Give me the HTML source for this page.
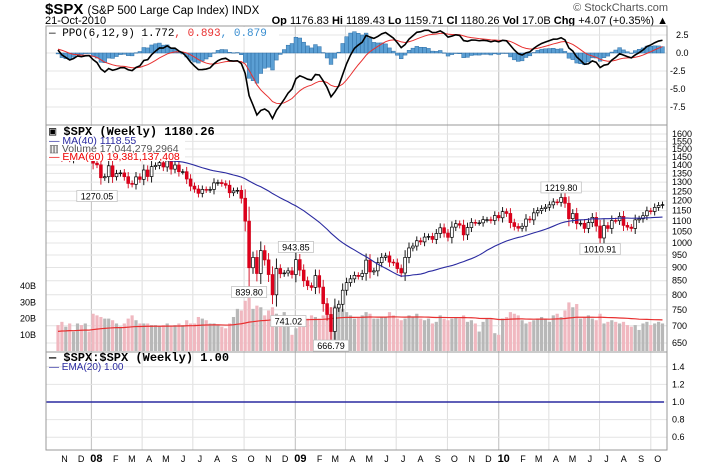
<!DOCTYPE html>
<html><head><meta charset="utf-8">
<style>
html,body{margin:0;padding:0;background:#fff;}
svg{display:block;font-family:"Liberation Sans",sans-serif;}
</style></head>
<body>
<svg id="chart" width="720" height="468" viewBox="0 0 720 468" xmlns="http://www.w3.org/2000/svg">
<g>
<text x="45" y="14" font-size="15" font-weight="bold">$SPX <tspan font-size="11.5" font-weight="normal">(S&amp;P 500 Large Cap Index) INDX</tspan></text>
<text x="45" y="24" font-size="11">21-Oct-2010</text>
<text x="668" y="24" font-size="11" text-anchor="end"><tspan font-weight="bold">Op</tspan> 1176.83  <tspan font-weight="bold">Hi</tspan> 1189.43  <tspan font-weight="bold">Lo</tspan> 1159.71  <tspan font-weight="bold">Cl</tspan> 1180.26  <tspan font-weight="bold">Vol</tspan> 17.0B  <tspan font-weight="bold">Chg</tspan> +4.07 (+0.35%) ▲</text>
<text x="668" y="11" font-size="11" fill="#555" text-anchor="end">© StockCharts.com</text>
</g>
<g id="grid"></g>
<g id="vol"></g>
<g id="ppo"></g>
<g id="price"></g>
<g id="ann"></g>
<g id="axes"></g>
</svg>
<script>
const historyCloses=[1409,1430,1431,1422,1448,1448,1438,1456,1451,1387,1402,1387,1386,1437,1421,1443,1444,1453,1482,1495,1505,1505,1522,1501,1531,1507,1536,1503,1531,1533,1553,1534,1458,1433,1453,1445,1479,1474,1453,1484,1527,1525,1557,1561,1554,1501,1535];
const closes=[1509,1453,1458,1440,1481,1504,1467,1484,1478,
1411,1401,1325,1331,1395,1331,1349,1353,1331,1293,1288,1330,1316,1370,1332,1390,1397,1414,1388,1425,1375,1400,1360,1360,1318,1278,1262,1239,1260,1257,1260,1296,1298,1292,1283,1242,1252,1255,1213,1099,899,940,877,968,930,873,800,896,876,879,887,873,
931,890,850,832,826,869,827,770,735,683,756,768,816,843,857,870,866,877,929,883,887,919,940,946,921,918,896,879,940,979,987,1010,1005,1026,1029,1016,1042,1068,1044,1025,1071,1087,1080,1036,1069,1093,1091,1091,1106,1106,1102,1126,1115,
1145,1136,1092,1074,1066,1075,1109,1105,1139,1150,1160,1167,1179,1194,1192,1217,1187,1111,1136,1088,1089,1065,1092,1117,1076,1022,1078,1065,1102,1101,1122,1079,1071,1065,1105,1110,1125,1149,1146,1166,1176,1180];
const volumes=[16,18,15,17,12,17,16,17,12,
23,22,21,20,20,19,17,15,17,20,22,19,17,17,17,16,16,15,16,17,15,16,17,16,19,17,17,21,20,19,17,17,16,15,14,17,21,26,25,31,34,26,28,27,22,25,27,23,22,24,20,10,
14,21,22,20,22,21,20,22,25,27,28,27,26,24,22,20,21,22,24,23,20,20,21,21,24,22,20,19,20,22,21,23,20,19,20,17,18,22,20,19,20,21,20,22,18,19,17,12,18,20,20,11,10,
20,21,24,23,22,19,17,18,19,20,21,20,18,22,23,21,25,30,27,29,20,21,22,20,19,23,17,18,19,18,17,18,16,15,16,13,17,18,16,17,18,17];
const priceTicks=[1600,1550,1500,1450,1400,1350,1300,1250,1200,1150,1100,1050,1000,950,900,850,800,750,700,650];
const volTicks=[10,20,30,40];
const ppoTicks=[2.5,0,-2.5,-5,-7.5];
const ratioTicks=[1.4,1.2,1.0,0.8,0.6];
const monthLabels=["N","D","08","F","M","A","M","J","J","A","S","O","N","D","09","F","M","A","M","J","J","A","S","O","N","D","10","F","M","A","M","J","J","A","S","O"];
const annotations=[{i:10,v:1270.05,t:"1270.05",below:true},{i:49,v:839.80,t:"839.80",below:true},{i:56,v:741.02,t:"741.02",below:true,dx:12},{i:61,v:943.85,t:"943.85",below:false},{i:70,v:666.79,t:"666.79",below:true},{i:129,v:1219.80,t:"1219.80",below:false},{i:139,v:1010.91,t:"1010.91",below:true}];

const NS="http://www.w3.org/2000/svg";
const L=46,R=667,T1=26,B1=125,B2=352,B3=450;
const X0=58,STEP=3.9;
const xi=i=>X0+i*STEP;
const yP=v=>134+(Math.log(1600)-Math.log(v))*232;
const yV=v=>351-v*1.62;
const yO=v=>53-v*7.2;
const yR=v=>402-(v-1)*88;
function el(tag,attrs,parent,text){const e=document.createElementNS(NS,tag);for(const k in attrs)e.setAttribute(k,attrs[k]);if(text!==undefined)e.textContent=text;parent.appendChild(e);return e;}
const g=id=>document.getElementById(id);
const n=Math.min(closes.length,volumes.length);
const all=historyCloses.concat(closes);
const H=historyCloses.length;

const grid=g('grid');
const start=new Date(2007,10,2);
const dx=d=>X0+((d-start)/864e5)/7*STEP;
for(const y of [2007,2008,2009,2010]) for(const m of [0,3,6,9]){
  const x=dx(new Date(y,m,1)); if(x<L||x>R)continue;
  const ln=el('line',{x1:x,x2:x,y1:T1,y2:B3,stroke:m===0?'#c8c8c8':'#dedede','stroke-width':m===0?1.2:1},grid);
  
}
priceTicks.forEach(v=>{const ln=el('line',{x1:L,x2:R,y1:yP(v),y2:yP(v),stroke:'#e4e4e4'},grid);});
ppoTicks.forEach(v=>{const ln=el('line',{x1:L,x2:R,y1:yO(v),y2:yO(v),stroke:'#e4e4e4'},grid);});
ratioTicks.forEach(v=>{const ln=el('line',{x1:L,x2:R,y1:yR(v),y2:yR(v),stroke:'#e4e4e4'},grid);});

const vol=g('vol');
for(let i=0;i<n;i++){
  const prev=all[H+i-1];const down=closes[i]<prev;
  const r=el('rect',{x:xi(i)-1.6,y:yV(volumes[i]),width:3.2,height:351-yV(volumes[i]),fill:down?'#f0b8c0':'#b8b8b8'},vol);
  
}
let ev=12,pts=[];const ka=2/61;
for(let i=0;i<n;i++){ev=volumes[i]*ka+ev*(1-ka);pts.push(xi(i)+','+yV(ev));}
const vl=el('polyline',{points:pts.join(' '),fill:'none',stroke:'#e83030','stroke-width':1.2},vol);


function emaSeries(arr,p){const k=2/(p+1);let e=arr[0];return arr.map(v=>(e=v*k+e*(1-k)));}
const e6=emaSeries(all,6),e12=emaSeries(all,12);
const ppoAll=all.map((v,i)=>(e6[i]-e12[i])/e12[i]*100);
const sigAll=emaSeries(ppoAll,9);
const ppo=g('ppo');
const pl=[],sl=[];
for(let i=0;i<n;i++){
  const p=ppoAll[H+i],s=sigAll[H+i],h=p-s;
  const y0=yO(0),y1=yO(h);
  const r=el('rect',{x:xi(i)-1.9,y:Math.min(y0,y1),width:3.8,height:Math.max(0.5,Math.abs(y1-y0)),fill:'#5b9fd4',stroke:'#2f6fa6','stroke-width':0.5},ppo);
  
  pl.push(xi(i)+','+yO(p));sl.push(xi(i)+','+yO(s));
}
const sline=el('polyline',{points:sl.join(' '),fill:'none',stroke:'#e83030','stroke-width':1},ppo);

const pline=el('polyline',{points:pl.join(' '),fill:'none',stroke:'#000','stroke-width':1.6},ppo);


const price=g('price');
const ma=[];
for(let i=0;i<n;i++){const j=H+i;const w=all.slice(Math.max(0,j-39),j+1);ma.push(xi(i)+','+yP(w.reduce((a,b)=>a+b,0)/w.length));}
for(let i=0;i<n;i++){
  const o=all[H+i-1],c=closes[i];const down=c<o;
  const rng=Math.abs(c-o)*0.3+c*0.012;
  const hi=Math.max(o,c)+rng,lo=Math.min(o,c)-rng;
  const w=el('line',{x1:xi(i),x2:xi(i),y1:yP(hi),y2:yP(lo),stroke:down?'#d00018':'#000','stroke-width':0.9},price);
  
  const yt=yP(Math.max(o,c)),yb=yP(Math.min(o,c));
  const b=el('rect',{x:xi(i)-1.4,y:yt,width:2.8,height:Math.max(0.8,yb-yt),fill:down?'#e0001c':'#fff',stroke:down?'#d00018':'#000','stroke-width':0.7},price);
  
}
const mal=el('polyline',{points:ma.join(' '),fill:'none',stroke:'#2a2aa0','stroke-width':1.1},price);

const rl=el('line',{x1:L,x2:R-3,y1:yR(1),y2:yR(1),stroke:'#2a2aa0','stroke-width':1.5},price);


const ann=g('ann');
annotations.forEach(a=>{
  const x=xi(a.i)+(a.dx||0);const y=yP(a.v)+(a.below?9:-9);
  const w=a.t.length*5.2+4;
  const r=el('rect',{x:x-w/2,y:y-6,width:w,height:11,fill:'#fff',stroke:'#bbb','stroke-width':0.7},ann);
  
  const t=el('text',{x:x,y:y+3,'font-size':9,'text-anchor':'middle'},ann,a.t);
  
});

const ax=g('axes');
const lb=el('rect',{x:47,y:126,width:138,height:35,fill:'#fff'},ax);

const lb2=el('rect',{x:47,y:27,width:232,height:11,fill:'#fff'},ax);

[[T1,B1],[B1,B2],[B2,B3]].forEach(([a,b])=>{const r=el('rect',{x:L,y:a,width:R-L,height:b-a,fill:'none',stroke:'#999','stroke-width':1},ax);});
priceTicks.forEach(v=>{const t=el('text',{x:672,y:yP(v)+3,'font-size':9},ax,String(v));});
ppoTicks.forEach(v=>{const t=el('text',{x:v<0?670:676,y:yO(v)+3,'font-size':9},ax,v.toFixed(1));});
ratioTicks.forEach(v=>{const t=el('text',{x:672,y:yR(v)+3,'font-size':9},ax,v.toFixed(1));});
volTicks.forEach(v=>{const t=el('text',{x:20,y:yV(v)+3,'font-size':9},ax,v+'B');});
const mpos=[];for(let y=2007;y<=2010;y++)for(let m=0;m<12;m++){const d=new Date(y,m,1);if(d<new Date(2007,10,1)||d>new Date(2010,9,1))continue;mpos.push(dx(d)+7);}
monthLabels.forEach((s,i)=>{if(i>=mpos.length)return;const yr=s.length===2;const t=el('text',{x:mpos[i]-(yr?2:0),y:462,'font-size':yr?11:9,'font-weight':yr?'bold':'normal','text-anchor':'middle'},ax,s);});
const MONO='"Liberation Mono",monospace';
const legends=[
 [49,36,11,'#000','— PPO(6,12,9) 1.772',MONO,'normal',[[', 0.893','#e83030'],[', 0.879','#3a8ed0']]],
 [49,135,12,'#000','▣ $SPX (Weekly) 1180.26',MONO,'bold'],
 [49,144,10.5,'#2a2aa0','— MA(40) 1118.55','"Liberation Sans",sans-serif','normal'],
 [49,152,10.5,'#555','▥ Volume 17,044,279,2964','"Liberation Sans",sans-serif','normal'],
 [49,160,10.5,'#e00','— EMA(60) 19,381,137,408','"Liberation Sans",sans-serif','normal'],
 [49,361,12,'#000','— $SPX:$SPX (Weekly) 1.00',MONO,'bold'],
 [49,370,10,'#2a2aa0','— EMA(20) 1.00','"Liberation Sans",sans-serif','normal']];
legends.forEach(l=>{const t=el('text',{x:l[0],y:l[1],'font-size':l[2],fill:l[3],'font-family':l[5],'font-weight':l[6]},ax,l[4]);
 if(l[7])l[7].forEach(s=>{el('tspan',{fill:s[1]},t,s[0]);});});
</script>
</body></html>
